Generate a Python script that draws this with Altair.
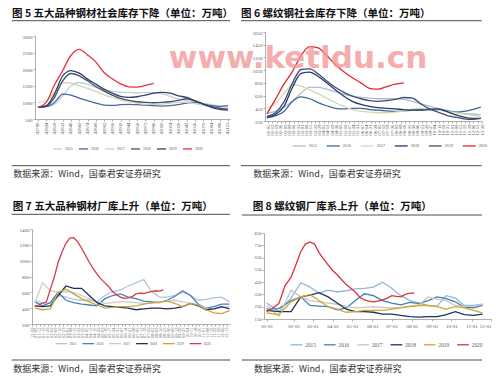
import json
import altair as alt
import pandas as pd

YEARS = ["2015", "2016", "2017", "2018", "2019", "2020"]
SOURCE = "数据来源：Wind，国泰君安证券研究"
WATERMARK = "www.ketldu.cn"

# ---------------- 图5 ----------------
F5_TITLE = "图 5 五大品种钢材社会库存下降（单位：万吨）"
F5_TICKS = [42790, 42804, 42818, 42832, 42846, 42860, 42874, 42888, 42902, 42916, 42930, 42944,
            42958, 42972, 42986, 43000, 43014, 43028, 43042, 43056, 43070, 43084, 43098, 43112]
F5_VALUES = {
    "2015": [850, 880, 950, 1200, 1500, 1600, 1550, 1450, 1380, 1340, 1310, 1300, 1290, 1300, 1290, 1260,
             1180, 1100, 1050, 1020, 980, 930, 890, 860],
    "2016": [850, 870, 1000, 1250, 1220, 1130, 1050, 980, 920, 910, 930, 940, 930, 920, 900, 890, 900,
             930, 980, 1000, 950, 900, 880, 900],
    "2017": [1000, 1050, 1300, 1600, 1580, 1500, 1420, 1330, 1230, 1150, 1080, 1020, 980, 950, 940, 950,
             980, 1000, 1000, 960, 920, 870, 830, 800],
    "2018": [850, 880, 1150, 1650, 1870, 1800, 1650, 1480, 1340, 1220, 1120, 1060, 1020, 1000, 990, 1000,
             1020, 1060, 1110, 1050, 950, 880, 830, 800],
    "2019": [850, 900, 1250, 1800, 1960, 1880, 1700, 1550, 1400, 1280, 1180, 1150, 1170, 1220, 1280, 1300,
             1280, 1200, 1150, 1050, 950, 850, 790, 770],
    "2020": [850, 1000, 1530, 1960, 2420, 2600, 2430, 2220, 1900, 1710, 1560, 1470, 1460, 1510, 1570],
}
F5_Y = [500, 1000, 1500, 2000, 2500, 3000]
F5_COLORS = ["#c3cfdb", "#4a68a2", "#d9d2b6", "#3e5668", "#343f6b", "#e5343b"]

# ---------------- 图6 ----------------
F6_TITLE = "图 6 螺纹钢社会库存下降（单位：万吨）"
F6_WEEKS = [1, 3, 5, 7, 9, 11, 13, 15, 17, 19, 21, 23, 25, 27, 29, 31, 33, 35, 37, 39, 41, 43, 45, 47, 49, 51]
F6_RED_WEEKS = [1, 3, 5, 7, 9, 11, 13, 15, 17, 19, 21, 23, 25, 27, 29, 31, 33]
F6_VALUES = {
    "2015": [370, 400, 470, 560, 690, 780, 780, 750, 710, 670, 640, 620, 610, 600, 600, 600, 590, 560, 520,
             480, 450, 420, 390, 370, 360, 350],
    "2016": [300, 330, 400, 560, 630, 600, 540, 490, 450, 440, 450, 450, 430, 420, 410, 400, 410, 420, 430,
             440, 430, 410, 390, 400, 430, 470],
    "2017": [450, 530, 680, 820, 800, 740, 680, 610, 540, 480, 430, 400, 390, 380, 380, 390, 410, 440, 450,
             430, 420, 400, 380, 360, 340, 320],
    "2018": [310, 350, 480, 780, 1000, 1020, 950, 850, 740, 640, 560, 510, 480, 460, 450, 440, 430, 420, 420,
             430, 440, 400, 350, 310, 290, 290],
    "2019": [320, 380, 550, 850, 1060, 1070, 990, 880, 780, 700, 640, 600, 570, 560, 570, 590, 620, 610, 520,
             440, 390, 340, 310, 285, 275, 290],
    "2020": [360, 590, 830, 1030, 1280, 1420, 1400, 1280, 1140, 1025, 930, 850, 765, 750, 790, 830, 850],
}
F6_Y = [250, 450, 650, 850, 1050, 1250, 1450, 1650]
F6_COLORS = ["#a9bfd5", "#3f6697", "#d3dbab", "#1f3d6b", "#454c70", "#e3262b"]

# ---------------- 图7 ----------------
F7_TITLE = "图 7 五大品种钢材厂库上升（单位：万吨）"
F7_WEEKS = [1, 3, 5, 7, 9, 11, 13, 15, 17, 19, 21, 23, 25, 27, 29, 31, 33, 35, 37, 39, 41, 43, 45, 47, 49, 51]
F7_RED_WEEKS = [1, 2, 3, 4, 5, 6, 7, 8, 9, 10, 11, 12, 13, 14, 15, 16, 17, 18, 19, 20, 21, 22, 23, 24, 25,
                26, 27, 28, 29, 30, 31, 32, 33, 34]
F7_VALUES = {
    "2015": [500, 460, 470, 560, 540, 510, 500, 500, 480, 560, 610, 630, 680, 720, 760, 610, 540, 540, 560,
             600, 560, 500, 510, 530, 540, 480],
    "2016": [480, 430, 470, 600, 500, 470, 450, 440, 430, 520, 560, 580, 540, 520, 490, 480, 470, 500, 550,
             620, 560, 450, 400, 420, 450, 450],
    "2017": [470, 720, 620, 600, 610, 600, 560, 520, 480, 460, 470, 480, 480, 470, 460, 460, 470, 490, 500,
             480, 460, 440, 400, 390, 410, 420],
    "2018": [430, 420, 430, 560, 680, 650, 650, 560, 470, 430, 420, 410, 400, 380, 390, 400, 400, 390, 400,
             420, 460, 430, 380, 390, 420, 390],
    "2019": [400, 380, 390, 600, 640, 580, 520, 480, 440, 400, 410, 420, 420, 430, 450, 470, 480, 490, 460,
             420, 460, 440, 380, 340, 330, 370],
    "2020": [420, 440, 465, 480, 640, 790, 980, 1110, 1220, 1285, 1290, 1240, 1160, 1070, 980, 900, 830, 770,
             720, 670, 610, 570, 540, 525, 530, 545, 580, 590, 585, 600, 610, 620, 615, 630],
}
F7_Y = [200, 400, 600, 800, 1000, 1200, 1400]
F7_COLORS = ["#abc7e0", "#4e7fb8", "#cbcbcb", "#1f2f5a", "#c9a73a", "#d8394a"]

# ---------------- 图8 ----------------
F8_TITLE = "图 8 螺纹钢厂库系上升（单位：万吨）"
F8_TICKS = [1, 32, 61, 92, 122, 153, 183, 214, 245, 275, 306, 336]
F8_TICK_LABELS = ["01-01", "02-01", "03-01", "04-01", "05-01", "06-01", "07-01", "08-01", "09-01", "10-01",
                  "11-01", "12-01"]
F8_DAYS = [1, 15, 29, 43, 57, 71, 85, 99, 113, 127, 141, 155, 169, 183, 197, 211, 225, 239, 253, 267, 281,
           295, 309, 323]
F8_RED_DAYS = [1, 8, 15, 22, 29, 36, 43, 50, 57, 64, 71, 78, 85, 92, 99, 106, 113, 120, 127, 134, 141, 148,
               155, 162, 169, 176, 183, 190, 197, 204, 211, 218]
F8_VALUES = {
    "2015": [280, 210, 320, 445, 410, 360, 385, 370, 380, 395, 400, 410, 450, 400, 340, 300, 280, 260, 255,
             340, 320, 260, 260, 270],
    "2016": [230, 235, 300, 330, 260, 255, 250, 225, 240, 300, 355, 340, 300, 280, 265, 285, 275, 300, 330,
             315, 290, 245, 240, 260],
    "2017": [260, 175, 385, 330, 300, 290, 280, 270, 250, 240, 245, 250, 245, 240, 245, 255, 265, 330, 310,
             300, 260, 250, 255, 270],
    "2018": [220, 210, 210, 330, 345, 365, 330, 280, 230, 210, 210, 205, 190, 190, 180, 170, 165, 170, 170,
             185, 210, 185, 180, 190],
    "2019": [200, 185, 290, 330, 350, 300, 250, 230, 205, 210, 220, 220, 220, 230, 240, 250, 260, 260, 250,
             230, 250, 240, 220, 200],
    "2020": [210, 240, 275, 420, 490, 600, 700, 760, 777, 760, 690, 640, 590, 545, 510, 470, 430, 400, 370,
             325, 305, 295, 290, 295, 305, 320, 340, 335, 330, 350, 360, 360],
}
F8_Y = [150, 250, 350, 450, 550, 650, 750, 850]
F8_COLORS = ["#8fb7dc", "#4a7bb0", "#c6c6c6", "#1c355e", "#d4a92a", "#e0303a"]

WIDTHS = [1.3, 1.3, 1.3, 1.4, 1.4, 1.8]
LABEL_COLOR = "#595959"
AXIS_COLOR = "#9a9a9a"
CJK = "Noto Sans CJK SC"
SERIF = "Liberation Serif"


def week_date(w):
    return pd.Timestamp("2020-01-03") + pd.Timedelta(days=7 * (w - 1))


def frame(xs_by_year, values):
    rows = []
    for yr in YEARS:
        for x, v in zip(xs_by_year[yr], values[yr]):
            rows.append({"x": x, "v": v, "year": yr})
    return pd.DataFrame(rows)


def text_layer(txt, x, y, size, color, font, weight="normal", align="left", baseline="middle", opacity=1.0):
    return alt.Chart(pd.DataFrame({"t": [txt]})).mark_text(
        align=align, baseline=baseline, fontSize=size, fontWeight=weight, font=font,
        color=color, opacity=opacity
    ).encode(text="t:N", x=alt.value(x), y=alt.value(y))


def hrule(x1, x2, y, color="#3a3a3a", sw=0.9):
    return alt.Chart(pd.DataFrame({"r": [0]})).mark_rule(color=color, strokeWidth=sw).encode(
        x=alt.value(x1), x2=alt.value(x2), y=alt.value(y))


def yaxis(values, size, offset=0):
    return alt.Axis(values=values, format="d", labelFontSize=size, labelFont=SERIF, labelColor=LABEL_COLOR,
                    domainColor=AXIS_COLOR, tickColor=AXIS_COLOR, tickSize=2, labelPadding=1, grid=False,
                    title=None, offset=offset)


def legend(x, y, sym, font, offset, colpad):
    return alt.Legend(orient="none", legendX=x, legendY=y, direction="horizontal", title=None,
                      symbolType="stroke", symbolSize=sym * sym, symbolStrokeWidth=1.6,
                      labelFontSize=font, labelFont=SERIF, labelColor=LABEL_COLOR, labelOffset=offset,
                      columnPadding=colpad, padding=0, rowPadding=0)


def lines(df, xenc, yenc, colors, leg, interp):
    return alt.Chart(df).mark_line(interpolate=interp).encode(
        x=xenc, y=yenc,
        color=alt.Color("year:N", scale=alt.Scale(domain=YEARS, range=colors), legend=leg),
        strokeWidth=alt.StrokeWidth("year:N", scale=alt.Scale(domain=YEARS, range=WIDTHS), legend=None),
    )


TITLE_DY = 0.8

# ---- panel 5 (group at page x=32, y=32)
xs5 = {yr: F5_TICKS[:len(F5_VALUES[yr])] for yr in YEARS}
df5 = frame(xs5, F5_VALUES)
p5_lines = lines(
    df5,
    alt.X("x:Q", scale=alt.Scale(domain=[42785, 43115.5], range=[3, 198], nice=False, zero=False),
          axis=alt.Axis(values=F5_TICKS, format="d", labelAngle=-90, labelFontSize=4.8, labelFont=SERIF,
                        labelColor=LABEL_COLOR, labelOverlap=False, labelFlush=False, domainColor=AXIS_COLOR,
                        tickColor=AXIS_COLOR, tickSize=2, labelPadding=1, grid=False, title=None)),
    alt.Y("v:Q", scale=alt.Scale(domain=[500, 3000], range=[87, 4], nice=False, zero=False),
          axis=yaxis(F5_Y, 5, offset=-3)),
    F5_COLORS, legend(20, 111, 9, 3.9, 2, 3), "monotone")
p5 = alt.layer(
    hrule(-23.5, -22.5, -23.5, color="white", sw=1),
    p5_lines,
    text_layer(F5_TITLE, -20, -18.7 + TITLE_DY, 10.5, "#111111", CJK, weight="bold"),
    hrule(-20.3, 198, -11.3),
    hrule(-20.3, 198, 133.7),
    text_layer(SOURCE, -18.7, 142.3, 9, "#333333", CJK),
).properties(width=198, height=87)

# ---- panel 6 (group at page x=264, y=32)
xs6 = {yr: [week_date(w) for w in (F6_RED_WEEKS if yr == "2020" else F6_WEEKS)] for yr in YEARS}
df6 = frame(xs6, F6_VALUES)
p6_lines = lines(
    df6,
    alt.X("x:T", scale=alt.Scale(domain=[alt.DateTime(year=2019, month=12, date=31),
                                         alt.DateTime(year=2020, month=12, date=20)],
                                 range=[1, 218], nice=False),
          axis=alt.Axis(tickCount={"interval": "week", "step": 1}, format="%m-%d", labelAngle=-90,
                        labelFontSize=4.8, labelFont=SERIF, labelColor=LABEL_COLOR, labelOverlap=False,
                        labelFlush=False, domainColor=AXIS_COLOR, tickColor=AXIS_COLOR, tickSize=2,
                        labelPadding=1, grid=False, title=None)),
    alt.Y("v:Q", scale=alt.Scale(domain=[250, 1650], nice=False, zero=False), axis=yaxis(F6_Y, 5, offset=-1)),
    F6_COLORS, legend(27.7, 106, 13, 4.2, 2, 6), "monotone")
p6 = alt.layer(
    p6_lines,
    text_layer(F6_TITLE, -23, -18.7 + TITLE_DY, 10.5, "#111111", CJK, weight="bold"),
    hrule(-23, 217.7, -11.3),
    hrule(-23, 217.7, 133.7),
    text_layer(SOURCE, -10.7, 142.3, 9, "#333333", CJK),
    text_layer(WATERMARK, 34, 36, 31, "#f29a9a", "DejaVu Sans", weight="bold", align="center",
               baseline="alphabetic", opacity=0.8),
).properties(width=218, height=89)

# ---- panel 7 (group at page x=32, y=229)
xs7 = {yr: [week_date(w) for w in (F7_RED_WEEKS if yr == "2020" else F7_WEEKS)] for yr in YEARS}
df7 = frame(xs7, F7_VALUES)
p7_lines = lines(
    df7,
    alt.X("x:T", scale=alt.Scale(domain=[alt.DateTime(year=2019, month=12, date=29),
                                         alt.DateTime(year=2020, month=12, date=19)], nice=False),
          axis=alt.Axis(tickCount={"interval": "week", "step": 1}, format="%m-%d", labelAngle=-90,
                        labelFontSize=4.5, labelFont=SERIF, labelColor=LABEL_COLOR, labelOverlap=False,
                        labelFlush=False, domainColor=AXIS_COLOR, tickColor=AXIS_COLOR, tickSize=2,
                        labelPadding=1, grid=False, title=None)),
    alt.Y("v:Q", scale=alt.Scale(domain=[200, 1400], nice=False, zero=False), axis=yaxis(F7_Y, 5)),
    F7_COLORS, legend(23, 107.7, 11.7, 3.5, 1.6, 2.8), "linear")
p7 = alt.layer(
    p7_lines,
    text_layer(F7_TITLE, -19.3, -23 + TITLE_DY, 10.5, "#111111", CJK, weight="bold"),
    hrule(-20.3, 198, -14.7),
    hrule(-20.3, 198, 131),
    text_layer(SOURCE, -18.7, 139.5, 9, "#333333", CJK),
).properties(width=198, height=95)

# ---- panel 8 (group at page x=264, y=229)
xs8 = {yr: (F8_RED_DAYS if yr == "2020" else F8_DAYS) for yr in YEARS}
df8 = frame(xs8, F8_VALUES)
f8_label_expr = f"{json.dumps(F8_TICK_LABELS)}[indexof({json.dumps(F8_TICKS)}, datum.value)]"
p8_lines = lines(
    df8,
    alt.X("x:Q", scale=alt.Scale(domain=[-2, 32, 336], range=[0, 29.7, 227], nice=False, zero=False),
          axis=alt.Axis(values=F8_TICKS, labelExpr=f8_label_expr, labelAngle=0, labelFontSize=5,
                        labelFont=SERIF, labelColor=LABEL_COLOR, labelOverlap=False, labelFlush=True,
                        domainColor=AXIS_COLOR, tickColor=AXIS_COLOR, tickSize=2, labelPadding=2,
                        grid=False, title=None)),
    alt.Y("v:Q", scale=alt.Scale(domain=[150, 850], range=[90, 4], nice=False, zero=False),
          axis=yaxis(F8_Y, 4.6)),
    F8_COLORS, legend(26, 109.2, 11.7, 5.3, 2.3, 5.3), "linear")
p8 = alt.layer(
    p8_lines,
    text_layer(F8_TITLE, -11.3, -23 + TITLE_DY, 10.5, "#111111", CJK, weight="bold"),
    hrule(-22, 218, -14),
    hrule(-22, 218, 131),
    text_layer(SOURCE, -10, 139.5, 9, "#333333", CJK),
).properties(width=227, height=90)

chart = alt.concat(
    p5, p6, p7, p8, columns=2, spacing={"row": 108, "column": 34}, bounds="flush"
).resolve_scale(
    x="independent", y="independent", color="independent", strokeWidth="independent"
).resolve_axis(
    x="independent", y="independent"
).resolve_legend(
    color="independent", strokeWidth="independent"
).properties(
    padding=0, background="white"
).configure_view(strokeWidth=0).configure_axis(domainWidth=0.8, tickWidth=0.8)

chart.save("out.html", embed_options={"renderer": "svg", "actions": False})
